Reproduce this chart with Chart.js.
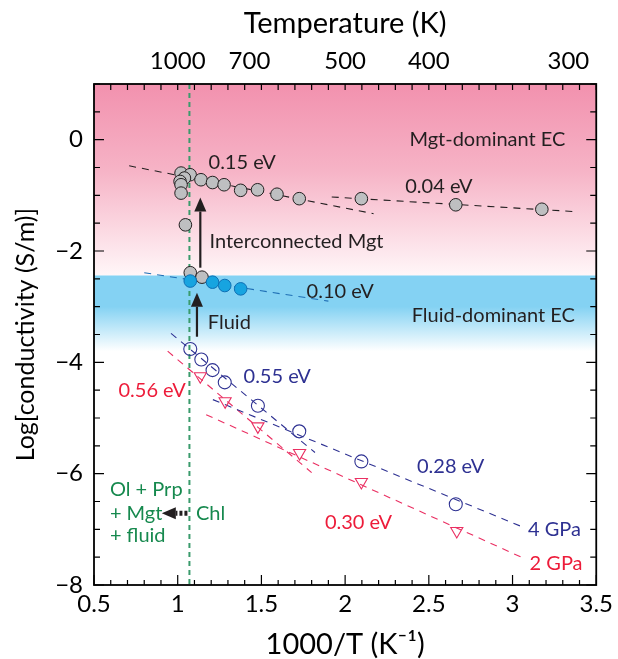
<!DOCTYPE html>
<html>
<head>
<meta charset="utf-8">
<script src="https://cdn.jsdelivr.net/npm/chart.js@4.4.1/dist/chart.umd.min.js"></script>
<style>
  html, body { margin: 0; padding: 0; background: #fff; }
</style>
</head>
<body>
<canvas id="chart" width="618" height="659"></canvas>
<script>
// tick labels
const xTicks = [0.5, 1, 1.5, 2, 2.5, 3, 3.5];
const yTicks = [-8, -6, -4, -2, 0];
const tempTicks = [1000, 700, 500, 400, 300];

// magnetite-bearing samples (grey circles)
const mgtX = [1.020, 1.074, 1.040, 1.014, 1.020, 1.020, 1.046, 1.139, 1.208, 1.277, 1.376, 1.477, 1.593, 1.726, 2.097, 2.661, 3.175];
const mgtY = [-0.60, -0.63, -0.69, -0.75, -0.81, -0.96, -1.53, -0.72, -0.77, -0.81, -0.91, -0.90, -0.98, -1.06, -1.06, -1.17, -1.25];
const mgtLowX = [1.075, 1.145];
const mgtLowY = [-2.39, -2.47];

// fluid-bearing samples (blue filled)
const fluidX = [1.075, 1.208, 1.281, 1.376];
const fluidY = [-2.54, -2.56, -2.62, -2.68];

// 4 GPa (open circles) and 2 GPa (triangles)
const gpa4X = [1.075, 1.141, 1.208, 1.281, 1.479, 1.726, 2.097, 2.661];
const gpa4Y = [-3.76, -3.95, -4.14, -4.36, -4.78, -5.24, -5.78, -6.55];
const gpa2X = [1.135, 1.283, 1.479, 1.728, 2.097, 2.667];
const gpa2Y = [-4.25, -4.70, -5.15, -5.63, -6.15, -7.03];

// dashed fits (end points)
const fit015X = [0.71, 2.17], fit015Y = [-0.47, -1.33];
const fit004X = [1.92, 3.36], fit004Y = [-1.03, -1.29];
const fit010X = [0.80, 1.90], fit010Y = [-2.39, -2.90];
const fit055X = [0.96, 1.82], fit055Y = [-3.48, -5.62];
const fit028X = [1.21, 3.07], fit028Y = [-4.67, -6.97];
const fit056X = [0.94, 1.80], fit056Y = [-3.80, -5.98];
const fit030X = [1.17, 3.06], fit030Y = [-4.94, -7.51];

// chlorite breakdown
const chlX = 1.07;

const toPts = (xs, ys) => xs.map((x, i) => ({ x: x, y: ys[i] }));

const GREY = '#231F20';
const NAVY = '#2E3192';
const PINK = '#EA2F62';
const RED = '#ED1C3A';
const GREEN = '#16894E';
const FONT = 'Lato';

function fitLine(xs, ys, color) {
  return {
    type: 'line', data: toPts(xs, ys), borderColor: color, borderWidth: 1.1,
    borderDash: [7, 6], pointRadius: 0, fill: false, order: 10
  };
}

const notes = [
  { text: '0.15 eV', x: 1.385, y: -0.41, color: GREY, align: 'center' },
  { text: '0.04 eV', x: 2.56, y: -0.85, color: GREY, align: 'center' },
  { text: 'Mgt-dominant EC', x: 2.85, y: 0.0, color: GREY, align: 'center' },
  { text: 'Interconnected Mgt', x: 1.19, y: -1.83, color: GREY, align: 'left' },
  { text: '0.10 eV', x: 1.77, y: -2.73, color: GREY, align: 'left' },
  { text: 'Fluid-dominant EC', x: 2.885, y: -3.16, color: GREY, align: 'center' },
  { text: 'Fluid', x: 1.18, y: -3.29, color: GREY, align: 'left' },
  { text: '0.55 eV', x: 1.594, y: -4.25, color: NAVY, align: 'center' },
  { text: '0.56 eV', x: 0.847, y: -4.50, color: RED, align: 'center' },
  { text: '0.28 eV', x: 2.63, y: -5.87, color: NAVY, align: 'center' },
  { text: '0.30 eV', x: 2.08, y: -6.88, color: RED, align: 'center' },
  { text: '4 GPa', x: 3.25, y: -7.00, color: NAVY, align: 'center' },
  { text: '2 GPa', x: 3.26, y: -7.61, color: RED, align: 'center' },
  { text: 'Ol + Prp', x: 0.595, y: -6.28, color: GREEN, align: 'left' },
  { text: '+ Mgt', x: 0.595, y: -6.71, color: GREEN, align: 'left' },
  { text: '+ fluid', x: 0.595, y: -7.12, color: GREEN, align: 'left' },
  { text: 'Chl', x: 1.109, y: -6.71, color: GREEN, align: 'left' }
];

const bands = {
  id: 'bands',
  beforeDatasetsDraw(chart) {
    const { ctx, chartArea: a, scales: { y } } = chart;
    const top = y.getPixelForValue(1);
    const pinkEnd = y.getPixelForValue(-2.44);
    const blueSolid = y.getPixelForValue(-3.0);
    const blueEnd = y.getPixelForValue(-3.8);
    ctx.save();
    let g = ctx.createLinearGradient(0, top, 0, pinkEnd);
    g.addColorStop(0, '#F291AE');
    g.addColorStop(0.45, '#F6B3C6');
    g.addColorStop(1, '#FFF6F8');
    ctx.fillStyle = g;
    ctx.fillRect(a.left, top, a.right - a.left, pinkEnd - top);
    g = ctx.createLinearGradient(0, pinkEnd, 0, blueEnd);
    const s = (blueSolid - pinkEnd) / (blueEnd - pinkEnd);
    g.addColorStop(0, '#84D2F3');
    g.addColorStop(s, '#84D2F3');
    g.addColorStop(1, 'rgba(255,255,255,1)');
    ctx.fillStyle = g;
    ctx.fillRect(a.left, pinkEnd, a.right - a.left, blueEnd - pinkEnd);
    // chlorite-out line
    const xp = chart.scales.x.getPixelForValue(chlX);
    ctx.strokeStyle = '#3A9B6C';
    ctx.lineWidth = 2;
    ctx.setLineDash([5, 4]);
    ctx.beginPath();
    ctx.moveTo(xp, a.top);
    ctx.lineTo(xp, a.bottom);
    ctx.stroke();
    ctx.restore();
  }
};

function arrow(ctx, x1, y1, x2, y2, dash) {
  const ang = Math.atan2(y2 - y1, x2 - x1);
  const hl = 14, hw = 6;
  const bx = x2 - hl * Math.cos(ang), by = y2 - hl * Math.sin(ang);
  ctx.save();
  ctx.strokeStyle = '#231F20';
  ctx.fillStyle = '#231F20';
  ctx.lineWidth = dash ? 5 : 2.2;
  if (dash) ctx.setLineDash([3, 2]);
  ctx.beginPath();
  ctx.moveTo(x1, y1);
  ctx.lineTo(bx, by);
  ctx.stroke();
  ctx.setLineDash([]);
  ctx.beginPath();
  ctx.moveTo(x2, y2);
  ctx.lineTo(bx + hw * Math.sin(ang), by - hw * Math.cos(ang));
  ctx.lineTo(bx - hw * Math.sin(ang), by + hw * Math.cos(ang));
  ctx.closePath();
  ctx.fill();
  ctx.restore();
}

const decor = {
  id: 'decor',
  afterDatasetsDraw(chart) {
    const { ctx, chartArea: a, scales: { x, y } } = chart;
    const px = v => x.getPixelForValue(v), py = v => y.getPixelForValue(v);

    arrow(ctx, px(1.135), py(-2.30), px(1.135), py(-1.04), false);
    arrow(ctx, px(1.115), py(-3.54), px(1.115), py(-2.75), false);
    arrow(ctx, px(1.058), py(-6.71), px(0.905), py(-6.71), true);

    ctx.save();
    ctx.font = '20px ' + FONT;
    ctx.textBaseline = 'middle';
    notes.forEach(n => {
      ctx.fillStyle = n.color;
      ctx.textAlign = n.align;
      ctx.fillText(n.text, px(n.x), py(n.y));
    });
    ctx.restore();
  },
  afterDraw(chart) {
    const { ctx, chartArea: a, scales: { x, y } } = chart;
    ctx.save();
    ctx.strokeStyle = '#000';
    ctx.lineWidth = 1.2;
    ctx.beginPath();
    for (let i = 0; i <= 30; i++) {
      const v = 0.5 + i * 0.1;
      const xp = x.getPixelForValue(v);
      const major = i % 5 === 0;
      ctx.moveTo(xp, a.bottom); ctx.lineTo(xp, a.bottom - (major ? 10 : 5));
      ctx.moveTo(xp, a.top); ctx.lineTo(xp, a.top + 6);
    }
    for (let i = 0; i <= 18; i++) {
      const v = -8 + i * 0.5;
      const yp = y.getPixelForValue(v);
      const major = i % 4 === 0;
      const len = major ? 10 : 6;
      ctx.moveTo(a.left, yp); ctx.lineTo(a.left + len, yp);
      ctx.moveTo(a.right, yp); ctx.lineTo(a.right - len, yp);
    }
    ctx.stroke();
    ctx.lineWidth = 1.8;
    ctx.strokeRect(a.left, a.top, a.right - a.left, a.bottom - a.top);
    ctx.restore();
  }
};

Chart.defaults.font.family = FONT;
Chart.defaults.color = '#000';

new Chart(document.getElementById('chart'), {
  type: 'scatter',
  data: {
    datasets: [
      fitLine(fit015X, fit015Y, GREY),
      fitLine(fit004X, fit004Y, GREY),
      fitLine(fit010X, fit010Y, '#1F6FB5'),
      fitLine(fit055X, fit055Y, NAVY),
      fitLine(fit028X, fit028Y, NAVY),
      fitLine(fit056X, fit056Y, PINK),
      fitLine(fit030X, fit030Y, PINK),
      {
        label: 'Mgt', data: toPts(mgtX, mgtY), pointRadius: 6.3,
        backgroundColor: '#BEBFC1', borderColor: GREY, borderWidth: 1, order: 5
      },
      {
        label: 'Mgt low', data: toPts(mgtLowX, mgtLowY), pointRadius: 6.3,
        backgroundColor: '#BEBFC1', borderColor: GREY, borderWidth: 1, order: 4
      },
      {
        label: 'Fluid', data: toPts(fluidX, fluidY), pointRadius: 6.3,
        backgroundColor: '#17A4E0', borderColor: '#0E6FB4', borderWidth: 1, order: 3
      },
      {
        label: '4 GPa', data: toPts(gpa4X, gpa4Y), pointRadius: 6.5,
        backgroundColor: 'rgba(0,0,0,0)', borderColor: NAVY, borderWidth: 1.1, order: 2
      },
      {
        label: '2 GPa', data: toPts(gpa2X, gpa2Y), pointRadius: 7, pointStyle: 'triangle',
        rotation: 180, backgroundColor: 'rgba(0,0,0,0)', borderColor: PINK, borderWidth: 1.1, order: 1
      }
    ]
  },
  options: {
    responsive: false,
    animation: false,
    devicePixelRatio: 1,
    layout: { padding: { left: 0, right: 18, top: 0, bottom: 0 } },
    plugins: { legend: { display: false }, tooltip: { enabled: false } },
    scales: {
      x: {
        type: 'linear', position: 'bottom', min: 0.5, max: 3.5,
        afterBuildTicks: s => { s.ticks = xTicks.map(v => ({ value: v })); },
        afterFit: s => { s.height = 74; },
        grid: { display: false, tickLength: 0 }, border: { display: false },
        ticks: { font: { size: 24 }, padding: 5, callback: v => String(v) },
        title: { display: true, text: '1000/T (K\u207B\u00B9)', font: { size: 29, lineHeight: 1 }, padding: { top: 0, bottom: 0 } }
      },
      x2: {
        type: 'linear', position: 'top', min: 0.5, max: 3.5,
        afterBuildTicks: s => { s.ticks = tempTicks.map(t => ({ value: 1000 / t })); },
        afterFit: s => { s.height = 84; },
        grid: { display: false, tickLength: 0 }, border: { display: false },
        ticks: { font: { size: 24 }, padding: 8, callback: v => String(Math.round(1000 / v)) },
        title: { display: true, text: 'Temperature (K)', font: { size: 29, lineHeight: 1 }, padding: { top: 9, bottom: 0 } }
      },
      y: {
        type: 'linear', min: -8, max: 1,
        afterBuildTicks: s => { s.ticks = yTicks.map(v => ({ value: v })); },
        afterFit: s => { s.width = 94; },
        grid: { display: false, tickLength: 0 }, border: { display: false },
        ticks: { font: { size: 24 }, padding: 11, callback: v => v < 0 ? '\u2212' + Math.abs(v) : String(v) },
        title: { display: true, text: 'Log[conductivity (S/m)]', font: { size: 25, lineHeight: 1 }, padding: { top: 13, bottom: 0 } }
      }
    }
  },
  plugins: [bands, decor]
});
</script>
</body>
</html>
